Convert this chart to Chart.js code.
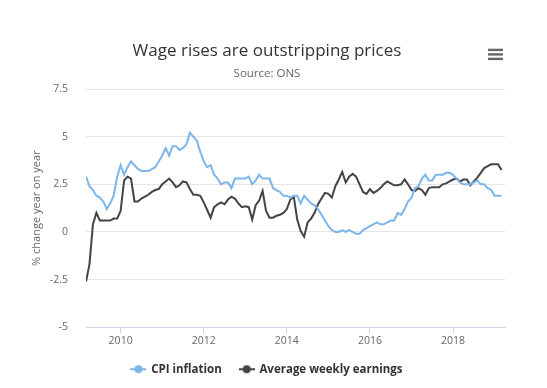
<!DOCTYPE html>
<html>
<head>
<meta charset="utf-8">
<title>Wage rises are outstripping prices</title>
<script src="https://cdn.jsdelivr.net/npm/chart.js@4.4.1/dist/chart.umd.min.js"></script>
<style>
  html, body { margin: 0; padding: 0; background: #fff; }
  #wrap { width: 547px; height: 388px; }
</style>
</head>
<body>
<div id="wrap"><canvas id="chart" width="547" height="388"></canvas></div>
<script>
// monthly series, March 2009 to March 2019
const firstYear = 2009;
const firstMonth = 3;
const yearTicks = [2010, 2012, 2014, 2016, 2018];
const valueTicks = [-5, -2.5, 0, 2.5, 5, 7.5];
const seriesNames = ['CPI inflation', 'Average weekly earnings'];
const seriesColors = ['#7cb5ec', '#434348'];

const cpi = [
  2.9, 2.4, 2.2, 1.9, 1.8, 1.6, 1.2, 1.5, 1.9, 2.9,
  3.5, 3.0, 3.4, 3.7, 3.5, 3.3, 3.2, 3.2, 3.2, 3.3,
  3.4, 3.7, 4.0, 4.4, 4.0, 4.5, 4.5, 4.3, 4.4, 4.6,
  5.2, 5.0, 4.8, 4.2, 3.7, 3.4, 3.5, 3.0, 2.8, 2.5,
  2.6, 2.6, 2.3, 2.8, 2.8, 2.8, 2.8, 2.9, 2.5, 2.7,
  3.0, 2.8, 2.8, 2.8, 2.3, 2.2, 2.1, 1.9, 1.9, 1.8,
  1.9, 1.9, 1.5, 1.9, 1.7, 1.5, 1.4, 1.2, 0.9, 0.6,
  0.3, 0.1, 0.0, 0.0, 0.1, 0.0, 0.1, 0.0, -0.1, -0.1,
  0.1, 0.2, 0.3, 0.4, 0.5, 0.4, 0.4, 0.5, 0.6, 0.6,
  1.0, 0.9, 1.2, 1.6, 1.8, 2.3, 2.4, 2.8, 3.0, 2.7,
  2.7, 3.0, 3.0, 3.0, 3.1, 3.1, 3.0, 2.8, 2.6, 2.5,
  2.5, 2.5, 2.6, 2.7, 2.5, 2.5, 2.3, 2.2, 1.9, 1.9,
  1.9
];

const earnings = [
  -2.6, -1.7, 0.4, 1.0, 0.6, 0.6, 0.6, 0.6, 0.7, 0.7,
  1.1, 2.7, 2.9, 2.8, 1.6, 1.6, 1.75, 1.85, 1.95, 2.1,
  2.2, 2.25, 2.5, 2.65, 2.8, 2.6, 2.35, 2.45, 2.65, 2.6,
  2.25, 1.95, 1.95, 1.9, 1.55, 1.15, 0.75, 1.3, 1.45, 1.55,
  1.45, 1.7, 1.85, 1.75, 1.5, 1.3, 1.35, 1.3, 0.65, 1.4,
  1.65, 2.15, 1.1, 0.75, 0.75, 0.85, 0.9, 1.0, 1.2, 1.7,
  1.85, 0.65, 0.05, -0.25, 0.5, 0.7, 1.0, 1.45, 1.75, 2.05,
  2.0, 1.8, 2.4, 2.75, 3.15, 2.6, 2.9, 3.05, 2.9, 2.5,
  2.1, 2.0, 2.25, 2.05, 2.15, 2.3, 2.5, 2.65, 2.55, 2.45,
  2.45, 2.5, 2.75, 2.5, 2.2, 2.15, 2.3, 2.2, 1.95, 2.3,
  2.35, 2.35, 2.35, 2.5, 2.55, 2.65, 2.75, 2.8, 2.65, 2.75,
  2.75, 2.45, 2.65, 2.85, 3.1, 3.35, 3.45, 3.55, 3.55, 3.55,
  3.25
];

// decimal year for each month
const monthPos = cpi.map((_, i) => firstYear + (firstMonth - 1 + i) / 12);
const toPoints = arr => arr.map((v, i) => ({ x: monthPos[i], y: v }));

const FONT = "'Open Sans', 'Noto Sans', sans-serif";

function legendMarker(color) {
  const c = document.createElement('canvas');
  c.width = 16;
  c.height = 10;
  const g = c.getContext('2d');
  g.strokeStyle = color;
  g.lineWidth = 2;
  g.beginPath();
  g.moveTo(0, 5);
  g.lineTo(16, 5);
  g.stroke();
  g.fillStyle = color;
  g.beginPath();
  g.arc(8, 5, 4, 0, Math.PI * 2);
  g.fill();
  return c;
}
const markers = seriesColors.map(legendMarker);

// the little export menu icon in the top right
const menuIcon = {
  id: 'menuIcon',
  afterDraw(chart) {
    const ctx = chart.ctx;
    ctx.save();
    ctx.fillStyle = '#666';
    [48.7, 53.2, 57.7].forEach(y => ctx.fillRect(488, y, 15, 2.4));
    ctx.restore();
  }
};

new Chart(document.getElementById('chart'), {
  type: 'line',
  data: {
    datasets: [
      { label: seriesNames[0], data: toPoints(cpi), borderColor: seriesColors[0], backgroundColor: seriesColors[0] },
      { label: seriesNames[1], data: toPoints(earnings), borderColor: seriesColors[1], backgroundColor: seriesColors[1] }
    ]
  },
  plugins: [menuIcon],
  options: {
    responsive: false,
    devicePixelRatio: 1,
    animation: false,
    layout: { padding: { left: 29, right: 42, top: 0, bottom: 3 } },
    elements: {
      line: { borderWidth: 2, tension: 0 },
      point: { radius: 0, hoverRadius: 0 }
    },
    scales: {
      x: {
        type: 'linear',
        min: firstYear + (firstMonth - 1) / 12,
        max: 2019.25,
        afterBuildTicks: scale => { scale.ticks = yearTicks.map(v => ({ value: v })); },
        afterFit: scale => { scale.height = 18.25; },
        ticks: {
          callback: v => String(v),
          color: '#666',
          font: { family: FONT, size: 10.5 },
          padding: 1,
          maxRotation: 0
        },
        grid: { drawOnChartArea: false, drawTicks: true, tickLength: 6, color: '#ccd6eb' },
        border: { color: '#ccd6eb' }
      },
      y: {
        min: -5,
        max: 7.5,
        afterBuildTicks: scale => { scale.ticks = valueTicks.map(v => ({ value: v })); },
        afterFit: scale => { scale.width = 57; },
        ticks: {
          color: '#666',
          font: { family: FONT, size: 10.5 },
          padding: 18
        },
        grid: { color: '#e6e6e6', drawTicks: false },
        border: { display: false },
        title: {
          display: true,
          text: '% change year on year',
          color: '#666',
          font: { family: FONT, size: 11 },
          padding: { top: 1, bottom: 0 }
        }
      }
    },
    plugins: {
      title: {
        display: true,
        text: 'Wage rises are outstripping prices',
        color: '#333',
        font: { family: FONT, size: 17, weight: 'normal' },
        padding: { top: 41, bottom: 5.7 }
      },
      subtitle: {
        display: true,
        text: 'Source: ONS',
        color: '#666',
        font: { family: FONT, size: 11.5 },
        padding: { top: 0, bottom: 8.1 }
      },
      legend: {
        position: 'bottom',
        labels: {
          usePointStyle: true,
          pointStyleWidth: 14,
          padding: 18,
          color: '#333',
          font: { family: FONT, size: 11.5, weight: 'bold' },
          generateLabels(chart) {
            const items = Chart.defaults.plugins.legend.labels.generateLabels(chart);
            items.forEach((it, i) => { it.pointStyle = markers[i]; });
            return items;
          }
        }
      },
      tooltip: { enabled: false }
    }
  }
});
</script>
</body>
</html>
